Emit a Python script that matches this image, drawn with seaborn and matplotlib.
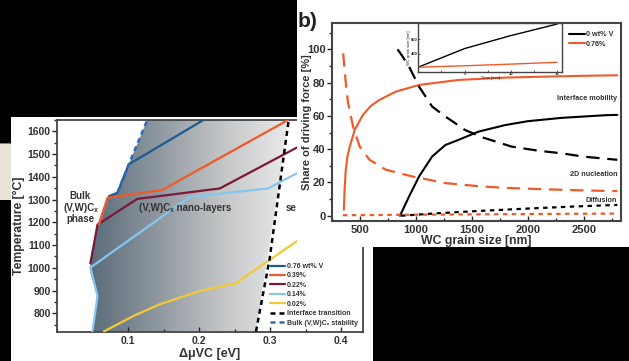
import matplotlib
matplotlib.use("Agg")
import matplotlib.pyplot as plt
import numpy as np
import seaborn as sns
from matplotlib.colors import LinearSegmentedColormap
from matplotlib.patches import Polygon, Rectangle
from matplotlib.ticker import MultipleLocator

sns.set_style("ticks")
plt.rcParams['font.family'] = ['Liberation Sans', 'DejaVu Sans']
plt.rcParams['font.weight'] = 'bold'

# ---- panel a: dmu_VC vs temperature ----
v076_x = [0.073, 0.085, 0.101, 0.206]
v076_T = [1315, 1330, 1455, 1650]
v039_x = [0.059, 0.071, 0.148, 0.325]
v039_T = [1190, 1308, 1342, 1650]
v022_x = [0.047, 0.057, 0.113, 0.229, 0.334, 0.41]
v022_T = [1020, 1190, 1303, 1349, 1523, 1650]
v014_x = [0.050, 0.057, 0.047, 0.047, 0.187, 0.297, 0.334, 0.43]
v014_T = [720, 876, 979, 1023, 1312, 1349, 1410, 1565]
v002_x = [0.066, 0.108, 0.145, 0.201, 0.252, 0.266, 0.294, 0.334, 0.43]
v002_T = [720, 789, 840, 898, 932, 964, 1023, 1110, 1300]
iface_x = [0.280, 0.299, 0.326]
iface_T = [720, 1037, 1650]
bulk_x = [0.085, 0.101, 0.127]
bulk_T = [1330, 1455, 1650]
# left edge of the shaded nano-layer field, then the interface line
field_x = [0.050, 0.057, 0.047, 0.047, 0.057, 0.071, 0.085, 0.101, 0.127, 0.326, 0.280]
field_T = [720, 876, 979, 1023, 1190, 1308, 1330, 1455, 1650, 1650, 720]

# ---- panel b: share of driving force vs grain size ----
im0_x = [860, 941, 1030, 1147, 1265, 1383, 1559, 1800, 2000, 2300, 2691, 2800]
im0_y = [0, 11.6, 23.6, 35.6, 42.5, 45.6, 50.5, 54.5, 56.8, 58.8, 60.4, 60.6]
im76_x = [359, 366, 376, 392, 412, 456, 529, 600, 676, 824, 1030, 1383, 1800, 2147, 2500, 2800]
im76_y = [3.6, 17, 27.6, 36, 41.6, 51.6, 60.6, 66, 69.6, 74.6, 78.6, 81.6, 83, 83.6, 84.1, 84.4]
nuc0_x = [838, 880, 941, 1030, 1147, 1265, 1353, 1441, 1600, 1853, 2100, 2294, 2500, 2800]
nuc0_y = [100, 96, 89.6, 77.6, 65.6, 59.6, 55.6, 51.5, 47, 41.6, 39, 37.6, 35.5, 33.6]
nuc76_x = [353, 368, 380, 397, 441, 500, 588, 735, 970, 1265, 1600, 1853, 2200, 2500, 2800]
nuc76_y = [97.6, 85.6, 77, 67.6, 53.6, 41.6, 33.6, 27.6, 23.6, 19.6, 17.5, 16.6, 15.8, 15.2, 14.8]
dif0_x = [870, 1200, 1600, 2000, 2400, 2800]
dif0_y = [0, 1.5, 3, 4.3, 5.5, 6.5]
dif76_x = [350, 1000, 2000, 2800]
dif76_y = [0.3, 0.6, 1.0, 1.3]
# inset: grain size vs time
ins_t = [0, 5, 10, 15]
ins0_d = [213, 470, 650, 810]
ins76_d = [212, 232, 255, 280]

c076, c039, c022, c014, c002 = '#1d5a8e', '#f05a28', '#7a1a38', '#86c6ee', '#f3c935'
c_bulk = '#2d6db4'

fig = plt.figure(figsize=(6.29, 3.61), dpi=100, facecolor='black')

# background pieces of the slide
fig.add_artist(Rectangle((0, 0.446), 0.04, 0.158, transform=fig.transFigure,
                         facecolor='#e8e3d6', edgecolor='none', zorder=0.1))
fig.add_artist(Rectangle((0, 0.600), 0.04, 0.004, transform=fig.transFigure,
                         facecolor='#8c7b5c', edgecolor='none', zorder=0.15))
fig.add_artist(Rectangle((0.0175, 0), 0.5755, 0.676, transform=fig.transFigure,
                         facecolor='white', edgecolor='none', zorder=0.5))

# ---------------- panel a ----------------
axa = fig.add_axes([0.0906, 0.0817, 0.4859, 0.5859], zorder=1)
axa.set_facecolor('white')
axa.set_xlim(0, 0.43)
axa.set_ylim(720, 1650)

cmap = LinearSegmentedColormap.from_list('field', ['#5a6b79', '#8e979f', '#c4c6c8', '#ececec'])
grad = np.linspace(0, 1, 256).reshape(1, -1)
img = axa.imshow(grad, extent=[0.045, 0.33, 720, 1650], aspect='auto', cmap=cmap,
                 origin='lower', zorder=0)
field = Polygon(np.column_stack([field_x, field_T]), closed=True, facecolor='none',
                edgecolor='none', transform=axa.transData)
axa.add_patch(field)
img.set_clip_path(field)

sns.lineplot(x=v076_x, y=v076_T, sort=False, color=c076, lw=1.6, ax=axa, label='0.76 wt% V', zorder=4)
sns.lineplot(x=v039_x, y=v039_T, sort=False, color=c039, lw=1.6, ax=axa, label='0.39%', zorder=4)
sns.lineplot(x=v022_x, y=v022_T, sort=False, color=c022, lw=1.6, ax=axa, label='0.22%', zorder=3)
sns.lineplot(x=v014_x, y=v014_T, sort=False, color=c014, lw=1.6, ax=axa, label='0.14%', zorder=3)
sns.lineplot(x=v002_x, y=v002_T, sort=False, color=c002, lw=1.6, ax=axa, label='0.02%', zorder=3)
sns.lineplot(x=iface_x, y=iface_T, sort=False, color='black', lw=1.8, ls=(0, (2, 1.6)), ax=axa,
             label='Interface transition', zorder=3)
sns.lineplot(x=bulk_x, y=bulk_T, sort=False, color=c_bulk, lw=1.8, ls=(0, (2, 1.6)), ax=axa,
             label='Bulk (V,W)Cₓ stability', zorder=5)

axa.text(0.033, 1265, 'Bulk\n(V,W)Cₓ\nphase', ha='center', va='center', fontsize=7,
         fontweight='bold', color='#333333', linespacing=1.15, zorder=6)
axa.text(0.115, 1261, '(V,W)Cₓ nano-layers', ha='left', va='center', fontsize=7,
         fontweight='bold', color='#333333', zorder=6)
axa.text(0.322, 1261, 'se', ha='left', va='center', fontsize=7,
         fontweight='bold', color='#333333', zorder=6)

leg = axa.legend(loc='lower right', bbox_to_anchor=(1.0, 0.0), frameon=False, fontsize=5,
                 handlelength=2.2, handletextpad=0.2, labelspacing=0.35, borderaxespad=0.3)
for t in leg.get_texts():
    t.set_color('#333333')

axa.set_xticks([0.1, 0.2, 0.3, 0.4])
axa.set_xticklabels(['0.1', '0.2', '0.3', '0.4'])
axa.set_yticks(range(800, 1601, 100))
axa.xaxis.set_minor_locator(MultipleLocator(0.05))
axa.yaxis.set_minor_locator(MultipleLocator(50))
axa.tick_params(axis='x', which='both', direction='in', labelsize=7.5, width=1, pad=3)
axa.tick_params(axis='y', which='both', direction='out', labelsize=7.5, width=1, pad=1)
axa.tick_params(which='minor', length=2)
for lab in axa.get_xticklabels() + axa.get_yticklabels():
    lab.set_fontweight('bold')
    lab.set_color('#333333')
for sp in axa.spines.values():
    sp.set_color('#444444')
    sp.set_linewidth(1.3)
axa.set_xlabel('ΔμVC [eV]', fontsize=9, fontweight='bold', color='#333333', labelpad=2)
axa.set_ylabel('Temperature [°C]', fontsize=8.8, fontweight='bold', color='#333333', labelpad=2)

# ---------------- panel b ----------------
fig.add_artist(Rectangle((0.4722, 0.3158), 0.5278, 0.6842, transform=fig.transFigure,
                         facecolor='white', edgecolor='none', zorder=2))
axb = fig.add_axes([0.5273, 0.3886, 0.4595, 0.5485], zorder=3)
axb.set_facecolor('white')
axb.set_xlim(250, 2830)
axb.set_ylim(-3, 116)

sns.lineplot(x=im0_x, y=im0_y, sort=False, color='black', lw=1.5, ax=axb, label='0 wt% V')
sns.lineplot(x=im76_x, y=im76_y, sort=False, color=c039, lw=1.5, ax=axb, label='0.76%')
sns.lineplot(x=nuc0_x, y=nuc0_y, sort=False, color='black', lw=1.6, ls=(0, (6, 3.5)), ax=axb)
sns.lineplot(x=nuc76_x, y=nuc76_y, sort=False, color=c039, lw=1.6, ls=(0, (6, 3.5)), ax=axb)
sns.lineplot(x=dif0_x, y=dif0_y, sort=False, color='black', lw=1.6, ls=(0, (2, 2)), ax=axb)
sns.lineplot(x=dif76_x, y=dif76_y, sort=False, color=c039, lw=1.6, ls=(0, (2, 2)), ax=axb)

axb.text(2800, 70.5, 'Interface mobility', ha='right', va='center', fontsize=5.2,
         fontweight='bold', color='#333333')
axb.text(2800, 24.6, '2D nucleation', ha='right', va='center', fontsize=5.2,
         fontweight='bold', color='#333333')
axb.text(2800, 9, 'Diffusion', ha='right', va='center', fontsize=5.2,
         fontweight='bold', color='#333333')

legb = axb.legend(loc='upper right', bbox_to_anchor=(0.99, 0.98), frameon=False, fontsize=5.2,
                  handlelength=2.2, handletextpad=0.2, labelspacing=0.35, borderaxespad=0.2)
for t in legb.get_texts():
    t.set_color('#333333')

axb.set_xticks([500, 1000, 1500, 2000, 2500])
axb.set_yticks([0, 20, 40, 60, 80, 100])
axb.xaxis.set_minor_locator(MultipleLocator(250))
axb.yaxis.set_minor_locator(MultipleLocator(10))
axb.tick_params(axis='x', which='both', direction='in', labelsize=8, width=1, pad=3)
axb.tick_params(axis='y', which='both', direction='out', labelsize=8, width=1, pad=1)
axb.tick_params(which='minor', length=2)
for lab in axb.get_xticklabels() + axb.get_yticklabels():
    lab.set_fontweight('bold')
    lab.set_color('#333333')
for sp in axb.spines.values():
    sp.set_color('#444444')
    sp.set_linewidth(1.5)
axb.set_xlabel('WC grain size [nm]', fontsize=8.8, fontweight='bold', color='#333333', labelpad=0)
axb.set_ylabel('Share of driving force [%]', fontsize=8, fontweight='bold', color='#333333')
axb.yaxis.set_label_coords(-0.069, 0.5)
fig.text(0.4735, 0.94, 'b)', fontsize=15, fontweight='bold', color='#222222', va='center',
         ha='left', zorder=5)

# inset
axi = fig.add_axes([0.665, 0.8014, 0.228, 0.134], zorder=4)
axi.set_facecolor('white')
axi.set_xlim(0, 15.5)
axi.set_ylim(150, 820)
sns.lineplot(x=ins_t, y=ins0_d, color='black', lw=1.0, ax=axi)
sns.lineplot(x=ins_t, y=ins76_d, color=c039, lw=1.0, ax=axi)
axi.set_xticks([5, 10, 15])
axi.set_yticks([400, 600])
axi.xaxis.set_minor_locator(MultipleLocator(2.5))
axi.tick_params(which='both', direction='in', labelsize=3, length=1.5, width=0.5, pad=0.5)
for sp in axi.spines.values():
    sp.set_color('#444444')
    sp.set_linewidth(1.0)
axi.set_xlabel('Time [min]', fontsize=3, labelpad=0)
axi.set_ylabel('WC grain size [nm]', fontsize=3, labelpad=0)

fig.savefig('out.png', dpi=100, facecolor='black')
